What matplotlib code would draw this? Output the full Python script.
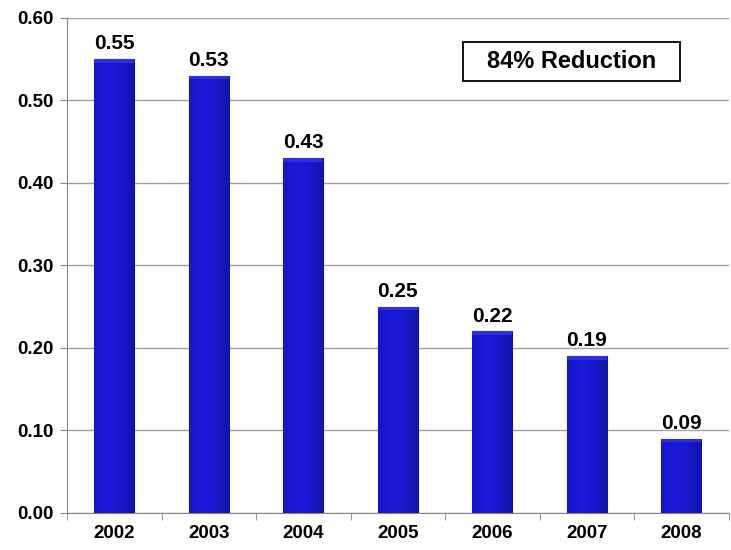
import numpy as np
import matplotlib.pyplot as plt
from matplotlib.patches import Rectangle

plt.rcParams['font.family'] = ['Liberation Sans', 'DejaVu Sans']
plt.rcParams['font.weight'] = 'bold'

years = ['2002', '2003', '2004', '2005', '2006', '2007', '2008']
values = [0.55, 0.53, 0.43, 0.25, 0.22, 0.19, 0.09]
y_ticks = [0.0, 0.1, 0.2, 0.3, 0.4, 0.5, 0.6]
note = '84% Reduction'

W, H = 731, 550
fig = plt.figure(figsize=(W / 100, H / 100), dpi=100)
ax = fig.add_axes([0.0917, 0.0673, 0.905, 0.900])

x = np.arange(len(years))
bars = ax.bar(x, values, width=0.42, color='#1a1ac4', edgecolor='#14148a',
              linewidth=0.8, zorder=3)

# horizontal shading to give the bars a rounded look
grad = np.linspace(0, 1, 64)
shade = 1 - 0.45 * np.abs(grad - 0.4) ** 1.5
img = np.zeros((1, 64, 3))
img[0, :, 0] = 0.10 * shade
img[0, :, 1] = 0.10 * shade
img[0, :, 2] = 0.85 * shade
for b in bars:
    bx, by = b.get_x(), b.get_y()
    w, h = b.get_width(), b.get_height()
    im = ax.imshow(img, extent=(bx, bx + w, by, by + h), aspect='auto',
                   zorder=3.5, interpolation='bicubic')
    im.set_clip_path(b)
    top = Rectangle((bx, by + h - 0.004), w, 0.004, facecolor='#2f2fe0',
                    edgecolor='none', zorder=3.6)
    ax.add_patch(top)

for xi, v in zip(x, values):
    ax.text(xi, v + 0.007, f'{v:.2f}', ha='center', va='bottom',
            fontsize=15, fontweight='bold', zorder=5)

ax.set_xlim(-0.5, len(years) - 0.5)
ax.set_ylim(0, 0.6)
ax.set_yticks(y_ticks)
ax.set_yticklabels([f'{t:.2f}' for t in y_ticks], fontsize=13.5, fontweight='bold')
ax.set_xticks(x)
ax.set_xticklabels(years, fontsize=13.5, fontweight='bold')
ax.set_xticks(np.arange(len(years) + 1) - 0.5, minor=True)
ax.tick_params(axis='x', which='major', length=0, pad=9)
ax.tick_params(axis='x', which='minor', length=5, color='#888888')
ax.tick_params(axis='y', length=5, color='#888888', pad=5)

ax.grid(axis='y', color='#a0a0a0', linewidth=1, zorder=0)
for s in ['top', 'right']:
    ax.spines[s].set_visible(False)
ax.spines['left'].set_color('#888888')
ax.spines['bottom'].set_color('#888888')

# annotation box (figure pixel layout)
bx0, bx1, by0, by1 = 463, 680, 42, 81
fig.patches.append(Rectangle((bx0 / W, 1 - by1 / H), (bx1 - bx0) / W,
                             (by1 - by0) / H, transform=fig.transFigure,
                             facecolor='white', edgecolor='black',
                             linewidth=1.3, zorder=10))
fig.text((bx0 + bx1) / 2 / W, 1 - (by0 + by1) / 2 / H, note, ha='center',
         va='center', fontsize=17, fontweight='bold', zorder=11)

fig.savefig('out.png', dpi=100)
